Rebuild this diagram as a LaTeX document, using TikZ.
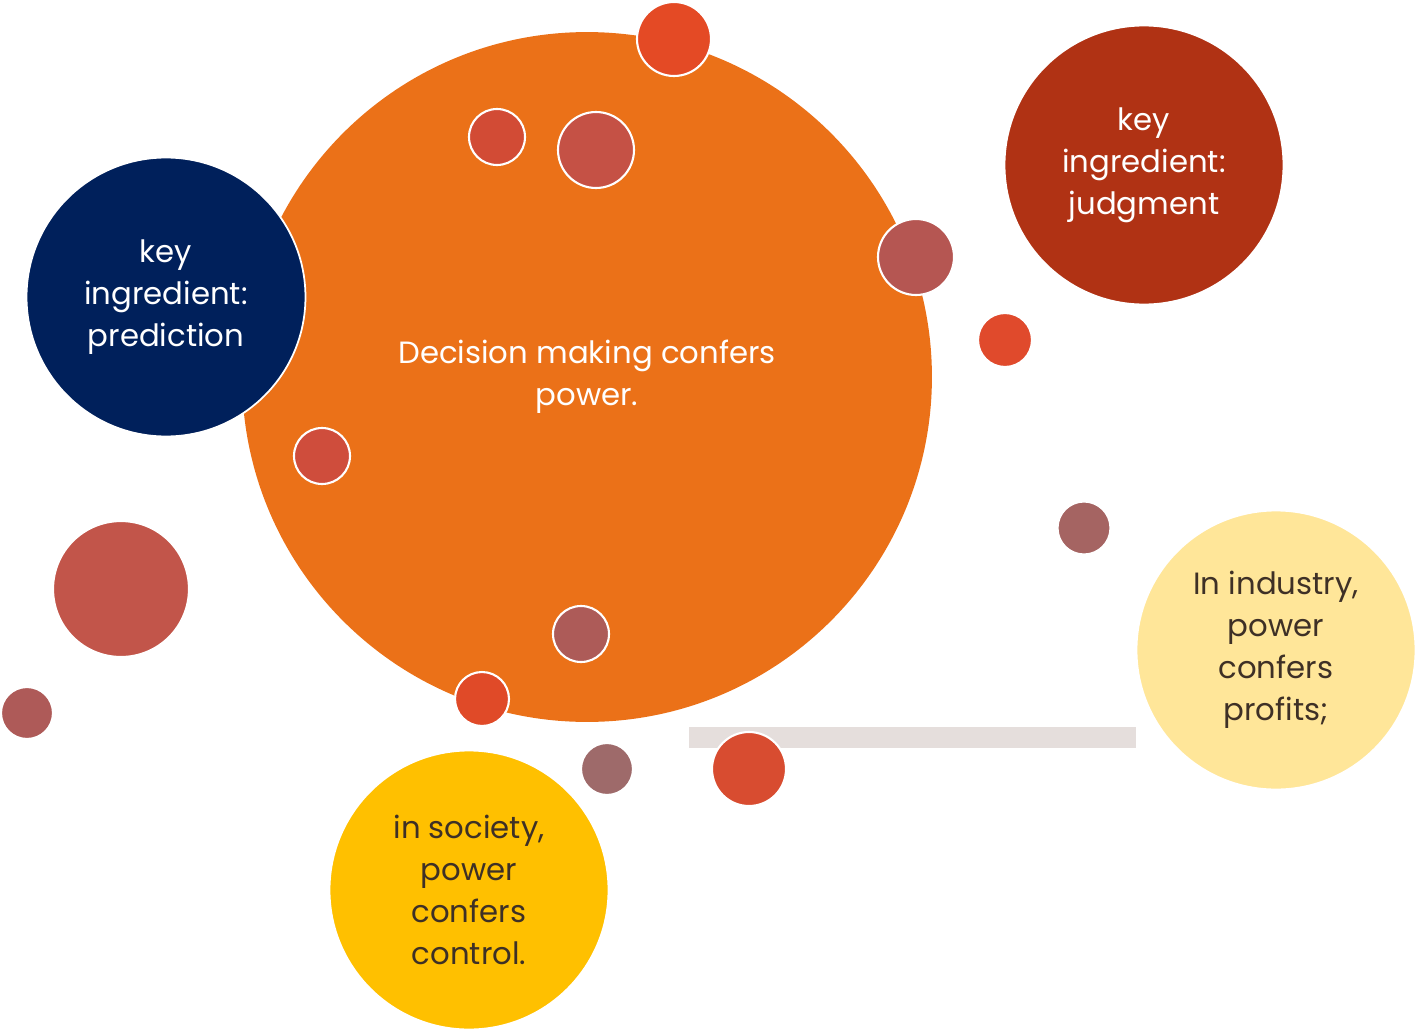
\documentclass[tikz,border=0pt]{standalone}
\usepackage{fontspec}
\setmainfont{Poppins}
\usepackage{xcolor}
\usepackage{tikz}

\definecolor{decisionorange}{HTML}{EB7118}
\definecolor{predictionnavy}{HTML}{00205B}
\definecolor{judgmentred}{HTML}{B03214}
\definecolor{industryyellow}{HTML}{FFE699}
\definecolor{societyyellow}{HTML}{FFC000}
\definecolor{darktext}{HTML}{3E3026}
\definecolor{bargrey}{HTML}{E5DEDC}

\begin{document}
\begin{tikzpicture}[
      x=0.02cm, y=-0.02cm,
      big/.style={circle, draw=white, line width=1pt, inner sep=0pt, minimum size=5.58cm, align=center, font=\fontsize{17.5}{23.8}\selectfont},
      dot/.style={circle, draw=white, line width=1.2pt, inner sep=0pt, minimum size=#1},
      bar/.style={draw=bargrey, line width=0.42cm},
    ]
    \useasboundingbox (0,0) rectangle (1417,1031);

    % Nodes
    \node[big, minimum size=13.8cm, fill=decisionorange, text=white, draw=none] (decision) at (587,377) {Decision making confers\\power.};
    \node[dot=1.48cm, fill={rgb,255:red,228;green,74;blue,37}] (dot1) at (674,39) {};
    \node[dot=1.12cm, fill={rgb,255:red,210;green,75;blue,53}] (dot2) at (497,137) {};
    \node[dot=1.52cm, fill={rgb,255:red,197;green,81;blue,69}] (dot3) at (596,150) {};
    \node[dot=1.52cm, fill={rgb,255:red,181;green,86;blue,82}] (dot4) at (916,257) {};
    \node[dot=1.08cm, fill={rgb,255:red,224;green,74;blue,44}] (dot5) at (1005,340) {};
    \node[dot=1.12cm, fill={rgb,255:red,207;green,77;blue,60}] (dot6) at (322,456) {};
    \node[dot=1.06cm, fill={rgb,255:red,165;green,100;blue,98}] (dot7) at (1084,528) {};
    \node[dot=2.72cm, fill={rgb,255:red,194;green,85;blue,74}] (dot8) at (121,589) {};
    \node[dot=1.04cm, fill={rgb,255:red,174;green,90;blue,88}] (dot9) at (27,713) {};
    \node[dot=1.12cm, fill={rgb,255:red,173;green,91;blue,88}] (dot10) at (581,634) {};
    \node[dot=1.08cm, fill={rgb,255:red,224;green,74;blue,40}] (dot11) at (482,699) {};
    \node[dot=1.04cm, fill={rgb,255:red,158;green,106;blue,106}] (dot12) at (607,769) {};

    \node[big, fill=predictionnavy, text=white] (prediction) at (166,297) {key\\ingredient:\\prediction};
    \node[big, fill=judgmentred, text=white] (judgment) at (1144,165) {key\\ingredient:\\judgment};
    \node[big, fill=industryyellow, text=darktext] (industry) at (1276,650) {In industry,\\power\\confers\\profits;};
    \node[big, fill=societyyellow, text=darktext] (society) at (469,890) {in society,\\power\\confers\\control.};

    % Bar
    \coordinate (barstart) at (689,737);
    \draw[bar] (barstart) -- (barstart -| industry.west);
    \node[dot=1.48cm, fill={rgb,255:red,216;green,76;blue,48}] (dot13) at (749,769) {};
  \end{tikzpicture}
\end{document}
